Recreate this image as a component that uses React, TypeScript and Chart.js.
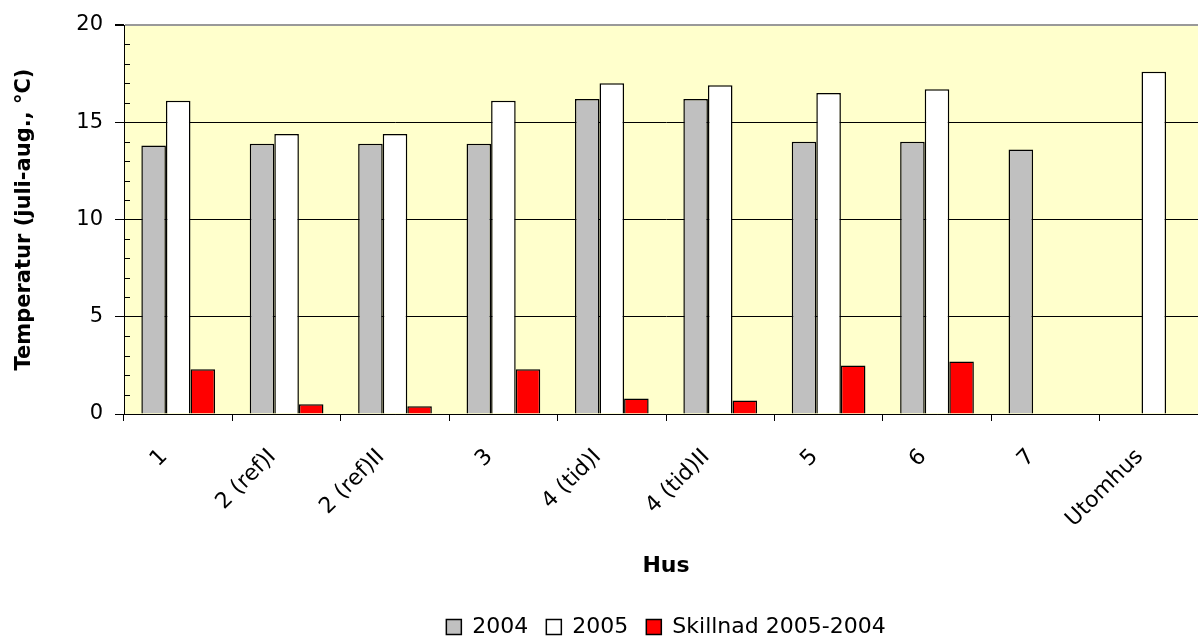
import React, { useEffect, useRef } from "react";
import { Chart, registerables } from "chart.js";

Chart.register(...registerables);

const categories = ["1", "2 (ref)I", "2 (ref)II", "3", "4 (tid)I", "4 (tid)II", "5", "6", "7", "Utomhus"];
const values2004 = [13.8, 13.9, 13.9, 13.9, 16.2, 16.2, 14.0, 14.0, 13.6, null];
const values2005 = [16.1, 14.4, 14.4, 16.1, 17.0, 16.9, 16.5, 16.7, null, 17.6];
const valuesDiff = [2.3, 0.5, 0.4, 2.3, 0.8, 0.7, 2.5, 2.7, null, null];
const seriesNames = ["2004", "2005", "Skillnad 2005-2004"];
const yMin = 0;
const yMax = 20;
const yMajorStep = 5;
const yMinorStep = 1;

const FONT = "'DejaVu Sans', 'Liberation Sans', Arial, sans-serif";

const CANVAS_W = 1216;
const CANVAS_H = 641;

const plotBg = {
  id: "plotBg",
  beforeDraw(chart: any) {
    const { ctx, chartArea } = chart;
    ctx.save();
    ctx.fillStyle = "#FFFFCC";
    ctx.fillRect(chartArea.left, chartArea.top, chartArea.right - chartArea.left, chartArea.bottom - chartArea.top);
    ctx.restore();
  },
};

const minorTicks = {
  id: "minorTicks",
  afterDraw(chart: any) {
    const { ctx } = chart;
    const y = chart.scales.y;
    ctx.save();
    ctx.strokeStyle = "#000";
    ctx.lineWidth = 1;
    for (let v = yMin; v <= yMax; v += yMinorStep) {
      if (v % yMajorStep === 0) continue;
      const py = Math.round(y.getPixelForValue(v)) + 0.5;
      ctx.beginPath();
      ctx.moveTo(y.right, py);
      ctx.lineTo(y.right + 6, py);
      ctx.stroke();
    }
    ctx.restore();
  },
};

export default function App() {
  const ref = useRef<HTMLCanvasElement>(null);

  useEffect(() => {
    const canvas = ref.current;
    if (!canvas) return;
    const chart = new Chart(canvas, {
      type: "bar",
      data: {
        labels: categories,
        datasets: [
          {
            label: seriesNames[0],
            data: values2004,
            backgroundColor: "#C0C0C0",
            borderColor: "#000000",
            borderWidth: 1.5,
          },
          {
            label: seriesNames[1],
            data: values2005,
            backgroundColor: "#FFFFFF",
            borderColor: "#000000",
            borderWidth: 1.5,
          },
          {
            label: seriesNames[2],
            data: valuesDiff,
            backgroundColor: "#FF0000",
            borderColor: "#000000",
            borderWidth: 1.5,
          },
        ],
      },
      options: {
        animation: false,
        responsive: false,
        maintainAspectRatio: false,
        devicePixelRatio: 1,
        layout: { padding: { left: 0, right: 8, top: 25, bottom: -7 } },
        datasets: {
          bar: { categoryPercentage: 0.68, barPercentage: 1.0 },
        },
        plugins: {
          tooltip: { enabled: false },
          legend: {
            display: true,
            position: "bottom",
            fullSize: false,
            labels: {
              font: { family: FONT, size: 22 },
              color: "#000",
              boxWidth: 15,
              boxHeight: 15,
              padding: 18,
            },
          },
        },
        scales: {
          x: {
            afterFit(scale: any) {
              scale.height = 184;
            },
            grid: {
              display: true,
              offset: true,
              drawOnChartArea: false,
              drawTicks: true,
              tickLength: 7,
              color: "#000",
              tickColor: "#000",
            },
            border: { display: true, color: "#000", width: 1 },
            ticks: {
              autoSkip: false,
              maxRotation: 45,
              minRotation: 45,
              padding: 23,
              labelOffset: -14,
              color: "#000",
              font: { family: FONT, size: 22 },
            },
            title: {
              display: true,
              text: "Hus",
              color: "#000",
              font: { family: FONT, size: 22, weight: "bold" },
              padding: { top: 0, bottom: 19 },
            },
          },
          y: {
            min: yMin,
            max: yMax,
            afterFit(scale: any) {
              scale.width = 124;
            },
            ticks: {
              stepSize: yMajorStep,
              padding: 12,
              color: "#000",
              font: { family: FONT, size: 21 },
            },
            grid: {
              drawTicks: true,
              tickLength: 9,
              tickColor: "#000",
              color: (ctx: any) => (ctx.tick && ctx.tick.value === yMax ? "#999999" : "#000000"),
              lineWidth: (ctx: any) => (ctx.tick && ctx.tick.value === yMax ? 2 : 1),
            },
            border: { display: true, color: "#000", width: 1 },
            title: {
              display: true,
              text: "Temperatur (juli-aug., °C)",
              color: "#000",
              font: { family: FONT, size: 21, weight: "bold" },
              padding: { top: 12, bottom: 0 },
            },
          },
        },
      },
      plugins: [plotBg, minorTicks],
    });
    return () => chart.destroy();
  }, []);

  return (
    <div
      style={{
        position: "fixed",
        left: 0,
        top: 0,
        width: 1198,
        height: 641,
        overflow: "hidden",
        background: "#fff",
      }}
    >
      <canvas ref={ref} width={CANVAS_W} height={CANVAS_H} style={{ width: CANVAS_W, height: CANVAS_H, display: "block" }} />
    </div>
  );
}
